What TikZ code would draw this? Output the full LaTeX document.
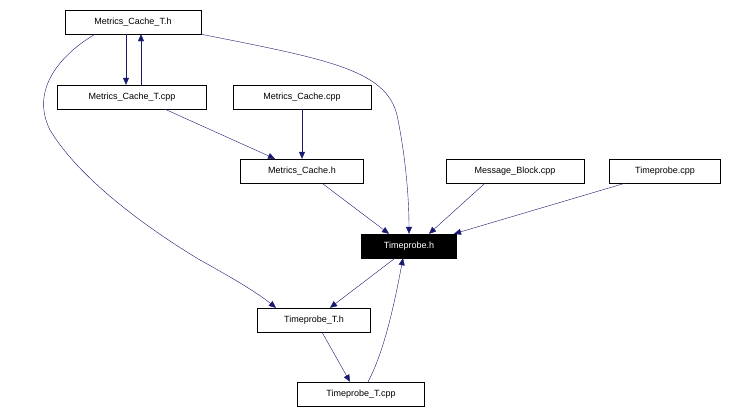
\documentclass[tikz,border=0pt]{standalone}
\usepackage{fontspec}
\setmainfont{Liberation Sans}
\usetikzlibrary{arrows.meta}
\definecolor{edge}{HTML}{191970}
\begin{document}
\begin{tikzpicture}[x=1pt,y=-1pt,
  box/.style={draw,rectangle,minimum height=24pt,inner sep=0pt,font=\fontsize{9}{10}\selectfont},
  e/.style={draw=edge,-{Triangle[length=7pt,width=6pt]},fill=none},
  every path/.style={}]
\useasboundingbox (0,0) rectangle (730,415);
\node[box,minimum width=136pt] (mcth) at (133,22) {Metrics\_Cache\_T.h};
\node[box,minimum width=149pt] (mctc) at (132,97) {Metrics\_Cache\_T.cpp};
\node[box,minimum width=138pt] (mcc) at (302,97) {Metrics\_Cache.cpp};
\node[box,minimum width=123pt] (mch) at (302,171) {Metrics\_Cache.h};
\node[box,minimum width=138pt] (mbc) at (515,171) {Message\_Block.cpp};
\node[box,minimum width=111pt] (tpc) at (665,171) {Timeprobe.cpp};
\node[box,minimum width=95pt,fill=black,text=white] (tph) at (409,246) {Timeprobe.h};
\node[box,minimum width=113pt] (tpth) at (314,320) {Timeprobe\_T.h};
\node[box,minimum width=127pt] (tptc) at (361,394) {Timeprobe\_T.cpp};
\draw[e] ([xshift=-7pt]mcth.south) -- ([xshift=-6pt]mctc.north);
\draw[e] ([xshift=9pt]mctc.north) -- ([xshift=8pt]mcth.south);
\draw[e] (mcth.south east) .. controls (330,60) and (390,70) .. (398,120) .. controls (406,160) and (409,200) .. (tph.north);
\draw[e] ([xshift=-38pt]mcth.south) .. controls (60,55) and (30,90) .. (50,130) .. controls (80,180) and (150,230) .. (200,260) .. controls (240,282) and (260,295) .. ([xshift=-38pt]tpth.north);
\draw[e] ([xshift=33pt]mctc.south) -- ([xshift=-27pt]mch.north);
\draw[e] (mcc) -- (mch);
\draw[e] ([xshift=20pt]mch.south) -- ([xshift=-20pt]tph.north);
\draw[e] ([xshift=-30pt]mbc.south) -- ([xshift=20pt]tph.north);
\draw[e] ([xshift=-40pt]tpc.south) -- ([xshift=45pt]tph.north);
\draw[e] ([xshift=-14pt]tph.south) -- ([xshift=16pt]tpth.north);
\draw[e] ([xshift=8pt]tpth.south) -- ([xshift=-11pt]tptc.north);
\draw[e] ([xshift=7pt]tptc.north) .. controls (385,350) and (395,300) .. ([xshift=-6pt]tph.south);
\end{tikzpicture}
\end{document}
